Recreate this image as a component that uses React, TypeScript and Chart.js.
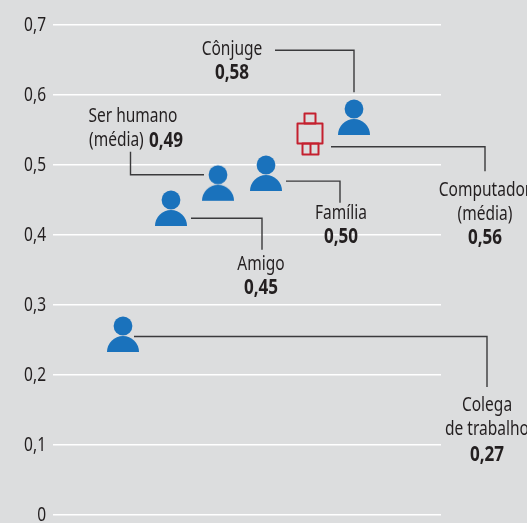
import React, { useEffect, useRef } from "react";
import { Chart, registerables } from "chart.js";

Chart.register(...registerables);

const categories = ["Colega de trabalho", "Amigo", "Ser humano (média)", "Família", "Computador (média)", "Cônjuge"];
const values = [0.27, 0.45, 0.486, 0.5, 0.56, 0.58];
const xOrder = [71, 119, 166, 214, 258, 302];
const yTicks = [0, 0.1, 0.2, 0.3, 0.4, 0.5, 0.6, 0.7];
const robotCategory = "Computador (média)";

const leaderConjuge = [{ x: 223, y: 0.664 }, { x: 302, y: 0.664 }, { x: 302, y: 0.604 }];
const leaderComputador = [{ x: 433, y: 0.491 }, { x: 433, y: 0.526 }, { x: 279, y: 0.526 }];
const leaderSerHumano = [{ x: 78.5, y: 0.519 }, { x: 78.5, y: 0.486 }, { x: 152, y: 0.486 }];
const leaderFamilia = [{ x: 234, y: 0.477 }, { x: 288, y: 0.477 }, { x: 288, y: 0.446 }];
const leaderAmigo = [{ x: 139, y: 0.424 }, { x: 210, y: 0.424 }, { x: 210, y: 0.379 }];
const leaderColega = [{ x: 435, y: 0.183 }, { x: 435, y: 0.255 }, { x: 82, y: 0.255 }];

const LEADERS = [leaderConjuge, leaderComputador, leaderSerHumano, leaderFamilia, leaderAmigo, leaderColega];

const BG = "#dcddde";
const BLUE = "#1a72bc";
const RED = "#c4202f";
const INK = "#231f20";
const FONT = '"Noto Sans", sans-serif';
const SQUEEZE = 0.775;

type Lab = { t: string; x: number; y: number; b?: boolean; a?: CanvasTextAlign };
const TEXTS: Lab[] = [
  { t: "Cônjuge", x: 232, y: 49 },
  { t: "0,58", x: 232, y: 73, b: true },
  { t: "Ser humano", x: 133, y: 116 },
  { t: "(média)", x: 89, y: 140, a: "left" },
  { t: "0,49", x: 149, y: 141, b: true, a: "left" },
  { t: "Família", x: 341, y: 213 },
  { t: "0,50", x: 341, y: 237, b: true },
  { t: "Computador", x: 485, y: 190 },
  { t: "(média)", x: 485, y: 214 },
  { t: "0,56", x: 485, y: 238, b: true },
  { t: "Amigo", x: 261, y: 264 },
  { t: "0,45", x: 261, y: 288, b: true },
  { t: "Colega", x: 487, y: 405 },
  { t: "de trabalho", x: 487, y: 429 },
  { t: "0,27", x: 487, y: 455, b: true },
];

function personIcon() {
  const c = document.createElement("canvas");
  c.width = 40;
  c.height = 60;
  const g = c.getContext("2d")!;
  g.fillStyle = BLUE;
  g.beginPath();
  g.arc(20, 30, 9.4, 0, Math.PI * 2);
  g.fill();
  g.beginPath();
  g.arc(20, 56, 16, Math.PI, 0);
  g.closePath();
  g.fill();
  return c;
}

function robotIcon() {
  const c = document.createElement("canvas");
  c.width = 70;
  c.height = 70;
  const g = c.getContext("2d")!;
  g.strokeStyle = RED;
  g.lineWidth = 2;
  g.lineJoin = "round";
  const o = 35;
  g.strokeRect(o - 5.5, o - 9.5, 11, 10);
  g.strokeRect(o - 12.5, o + 0.5, 25, 20);
  g.strokeRect(o - 7.5, o + 20.5, 16, 11);
  g.beginPath();
  g.moveTo(o + 0.5, o + 20.5);
  g.lineTo(o + 0.5, o + 31.5);
  g.stroke();
  return c;
}

function squeezed(g: CanvasRenderingContext2D, t: string, x: number, y: number, font: string, align: CanvasTextAlign) {
  g.save();
  g.font = font;
  g.textAlign = align;
  g.translate(x, y);
  g.scale(SQUEEZE, 1);
  g.fillText(t, 0, 0);
  g.restore();
}

const textPlugin = {
  id: "calloutText",
  afterDatasetsDraw(chart: any) {
    const g = chart.ctx;
    g.save();
    g.fillStyle = INK;
    g.textBaseline = "middle";
    for (const l of TEXTS) {
      const font = l.b ? `bold 22px ${FONT}` : `20px ${FONT}`;
      squeezed(g, l.t, l.x, l.y, font, l.a ?? "center");
    }
    for (const v of yTicks) {
      const s = v === 0 ? "0" : v.toFixed(1).replace(".", ",");
      squeezed(g, s, 46, chart.scales.y.getPixelForValue(v), `20px ${FONT}`, "right");
    }
    g.restore();
  },
};

export default function App() {
  const ref = useRef<HTMLCanvasElement>(null);
  useEffect(() => {
    const person = personIcon();
    const robot = robotIcon();
    const chart = new Chart(ref.current!, {
      type: "scatter",
      data: {
        datasets: [
          {
            data: categories.map((_, i) => ({ x: xOrder[i], y: values[i] })),
            pointStyle: categories.map((c) => (c === robotCategory ? robot : person)) as any,
            pointRadius: 20,
            clip: false,
          } as any,
          ...LEADERS.map((d) => ({
            type: "line" as const,
            data: d,
            borderColor: "#3a3a3c",
            borderWidth: 1.4,
            pointRadius: 0,
            fill: false,
            tension: 0,
            clip: false,
          })),
        ],
      },
      options: {
        responsive: false,
        animation: false,
        layout: { autoPadding: false, padding: { left: 0, right: 86, top: 25, bottom: 8 } },
        plugins: { legend: { display: false }, tooltip: { enabled: false } },
        scales: {
          x: { type: "linear", display: false, min: 1, max: 389 },
          y: {
            min: 0,
            max: 0.7,
            afterFit: (s: any) => {
              s.width = 53;
              s.paddingTop = 0;
              s.paddingBottom = 0;
            },
            afterBuildTicks: (s: any) => {
              s.ticks = yTicks.map((value) => ({ value }));
            },
            grid: { color: "#ffffff", lineWidth: 1.5, drawTicks: false },
            border: { display: false },
            ticks: { display: false },
          },
        },
      },
      plugins: [textPlugin],
    } as any);
    return () => chart.destroy();
  }, []);
  return (
    <div style={{ position: "fixed", inset: 0, background: BG }}>
      <canvas ref={ref} width={527} height={523} style={{ display: "block" }} />
    </div>
  );
}
